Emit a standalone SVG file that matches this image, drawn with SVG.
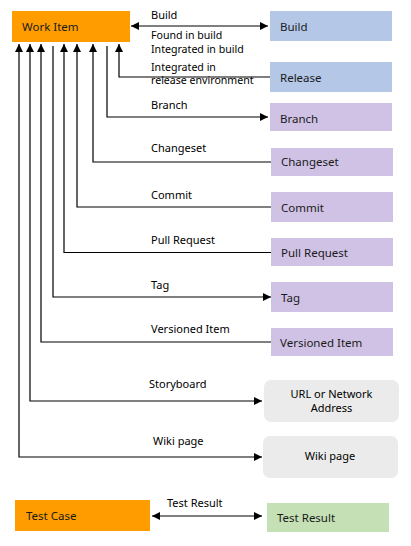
<svg xmlns="http://www.w3.org/2000/svg" width="411" height="546" viewBox="0 0 411 546">
<defs>
<marker id="ah" markerUnits="userSpaceOnUse" markerWidth="9" markerHeight="8" refX="8" refY="4" orient="auto-start-reverse">
<path d="M0,0 L8,4 L0,8 Z" fill="#000"/>
</marker>
<style>
.lbl{font-family:"Noto Sans","Open Sans",sans-serif;font-size:11px;fill:#000}
.sm{font-size:10.6px}
.nt{font-family:"Noto Sans","Open Sans",sans-serif;font-size:11.5px;fill:#1a1a1a}
.c{fill:none;stroke:#000;stroke-width:1.2}
.a{marker-end:url(#ah)}
.b{marker-start:url(#ah);marker-end:url(#ah)}
.orange{fill:#FF9C00}
.blue{fill:#B4C7E7}
.purple{fill:#D0C2E4}
.gray{fill:#EBEBEB}
.green{fill:#C5E0B4}
</style>
</defs>
<rect width="411" height="546" fill="#fff"/>
<g id="connectors">
<path class="c b" d="M131,26 H268"/>
<path class="c a" d="M270,77 H119 V44"/>
<path class="c a" d="M107,46 V117 H268"/>
<path class="c a" d="M271,162 H93 V44"/>
<path class="c a" d="M271,207 H77 V44"/>
<path class="c a" d="M271,252.5 H64 V44"/>
<path class="c a" d="M53,46 V297 H271"/>
<path class="c a" d="M271,342 H41 V44"/>
<path class="c b" d="M30,44 V401 H262"/>
<path class="c b" d="M19,44 V457 H262"/>
<path class="c b" d="M152,516 H262"/>
</g>
<g id="labels">
<text class="lbl" x="151" y="19">Build</text>
<text class="lbl sm" x="151" y="39">Found in build</text>
<text class="lbl sm" x="151" y="52.5">Integrated in build</text>
<text class="lbl sm" x="151" y="70.5">Integrated in</text>
<text class="lbl sm" x="151" y="84">release environment</text>
<text class="lbl" x="151" y="108.5">Branch</text>
<text class="lbl" x="151" y="152">Changeset</text>
<text class="lbl" x="151" y="199">Commit</text>
<text class="lbl" x="151" y="244">Pull Request</text>
<text class="lbl" x="151" y="288.5">Tag</text>
<text class="lbl" x="151" y="333">Versioned Item</text>
<text class="lbl" x="149" y="387.5">Storyboard</text>
<text class="lbl" x="153" y="444.5">Wiki page</text>
<text class="lbl" x="167" y="507">Test Result</text>
</g>
<g id="work-item"><rect class="orange" x="12" y="11" width="118" height="31"/><text class="nt" x="22" y="31">Work Item</text></g>
<g id="build"><rect class="blue" x="270" y="11" width="122" height="30"/><text class="nt" x="280" y="31">Build</text></g>
<g id="release"><rect class="blue" x="270" y="62" width="122" height="30"/><text class="nt" x="280" y="82">Release</text></g>
<g id="branch"><rect class="purple" x="270" y="103" width="122" height="28"/><text class="nt" x="280" y="122.5">Branch</text></g>
<g id="changeset"><rect class="purple" x="271" y="148" width="122" height="28"/><text class="nt" x="281" y="166">Changeset</text></g>
<g id="commit"><rect class="purple" x="271" y="192" width="122" height="30"/><text class="nt" x="281" y="211.5">Commit</text></g>
<g id="pull-request"><rect class="purple" x="271" y="238" width="122" height="28"/><text class="nt" x="281" y="257">Pull Request</text></g>
<g id="tag"><rect class="purple" x="271" y="282" width="122" height="30"/><text class="nt" x="281" y="302">Tag</text></g>
<g id="versioned-item"><rect class="purple" x="271" y="328" width="122" height="28"/><text class="nt" x="280" y="346.5">Versioned Item</text></g>
<g id="url"><rect class="gray" x="264" y="380" width="135" height="42" rx="7"/><text class="lbl" x="331.5" y="397.5" text-anchor="middle">URL or Network<tspan x="331.5" dy="14.5">Address</tspan></text></g>
<g id="wiki-page"><rect class="gray" x="263" y="436" width="135" height="42" rx="7"/><text class="lbl" x="330" y="460" text-anchor="middle">Wiki page</text></g>
<g id="test-case"><rect class="orange" x="15" y="500" width="135" height="31"/><text class="nt" x="26" y="520">Test Case</text></g>
<g id="test-result"><rect class="green" x="267" y="503" width="122" height="29"/><text class="nt" x="277" y="522">Test Result</text></g>
</svg>
